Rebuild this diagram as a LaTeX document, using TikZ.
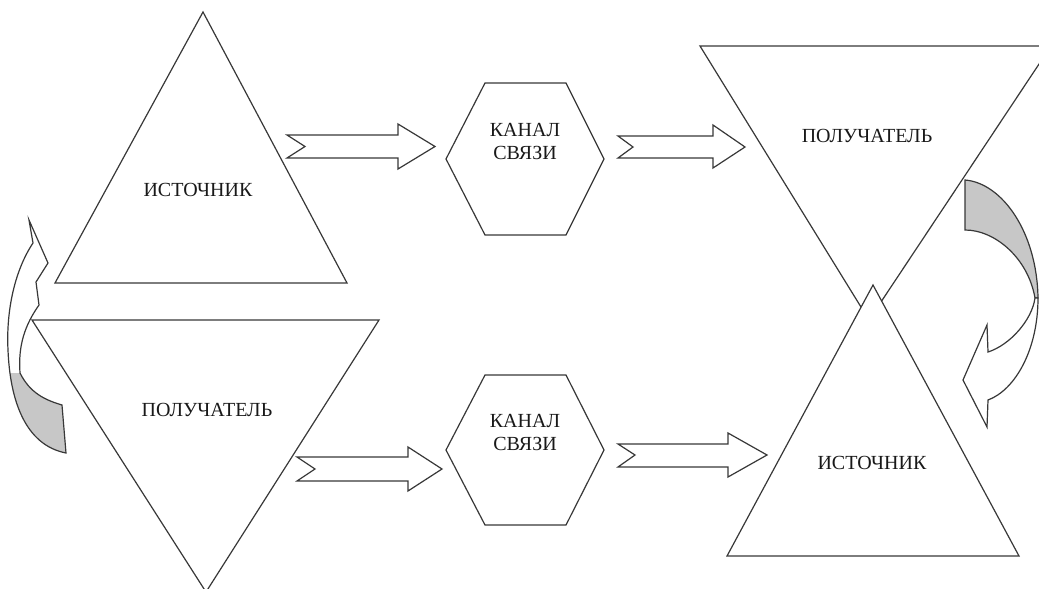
\documentclass[tikz,border=0pt]{standalone}
\usepackage{fontspec}
\setmainfont{Liberation Serif}
\begin{document}
\begin{tikzpicture}[x=1pt,y=-1pt,
  ln/.style={draw=black!78, line width=1.2pt, line join=miter},
  figure/.style={ln, fill=white},
  barrow/.style={ln, fill=white},
  lbl/.style={font=\fontsize{20}{23}\selectfont, inner sep=0pt, align=center, text=black!90}]
\useasboundingbox (0,0) rectangle (1039,589);
\clip (0,0) rectangle (1039,589);
\fill[white] (0,0) rectangle (1039,589);

% ---------- left curved arrow ----------
\def\leftband{(33,243) .. controls (15,270) and (6,310) .. (8,350)
  .. controls (10,400) and (25,445) .. (66,453) -- (62,405)
  .. controls (45,400) and (30,393) .. (20,373)
  .. controls (18,345) and (25,325) .. (39,305)
  -- (36,282) -- (48,263) -- (29,220) -- cycle}
\fill[white] \leftband;
\begin{scope}
  \clip \leftband;
  \fill[black!22] (0,373) -- (20,373) .. controls (30,393) and (45,400) .. (62,405)
    -- (72,462) -- (0,462) -- cycle;
\end{scope}
\draw[ln] \leftband;

% ---------- left triangles ----------
\coordinate (s1a) at (203,12); \coordinate (s1b) at (347,283); \coordinate (s1c) at (55,283);
\draw[figure] (s1a) -- (s1b) -- (s1c) -- cycle;
\node[lbl] (src1) at (198,190) {ИСТОЧНИК};

\coordinate (p2a) at (32,320); \coordinate (p2b) at (379,320); \coordinate (p2c) at (206,592);
\draw[figure] (p2a) -- (p2b) -- (p2c) -- cycle;
\node[lbl] (recv2) at (207,410) {ПОЛУЧАТЕЛЬ};

% ---------- hexagons ----------
\draw[figure] (485,83) -- (566,83) -- (604,159) -- (566,235) -- (485,235) -- (446,159) -- cycle;
\node[lbl] (ch1) at (525,141.5) {КАНАЛ\\СВЯЗИ};
\draw[figure] (485,375) -- (566,375) -- (604,450) -- (566,525) -- (485,525) -- (446,450) -- cycle;
\node[lbl] (ch2) at (525,432.5) {КАНАЛ\\СВЯЗИ};

% ---------- right triangles ----------
\coordinate (p1a) at (700,46); \coordinate (p1b) at (1051,46); \coordinate (p1c) at (869,320);
\draw[figure] (p1a) -- (p1b) -- (p1c) -- cycle;
\node[lbl] (recv1) at (867,136) {ПОЛУЧАТЕЛЬ};

\coordinate (s2a) at (873,285); \coordinate (s2b) at (1019,556); \coordinate (s2c) at (727,556);
\draw[figure] (s2a) -- (s2b) -- (s2c) -- cycle;
\node[lbl] (src2) at (872,463) {ИСТОЧНИК};

% ---------- right curved arrow ----------
\draw[ln, fill=black!22] (965,180) .. controls (1002,183) and (1037,232) .. (1038,298)
  -- (1035,298) .. controls (1028,258) and (995,230) .. (965,230) -- cycle;
\draw[barrow] (1035,298) .. controls (1032,320) and (1010,345) .. (988,352)
  -- (987,325) -- (963,380) -- (987,427) -- (988,400)
  .. controls (1015,390) and (1038,350) .. (1038,298) -- cycle;

% ---------- block arrows ----------
\draw[barrow] (287,135) -- (398,135) -- (398,124) -- (435,146.5) -- (398,169)
  -- (398,158) -- (287,158) -- (305,146.5) -- cycle;
\draw[barrow] (618,136) -- (713,136) -- (713,125) -- (745,147) -- (713,168)
  -- (713,158) -- (618,158) -- (633,147) -- cycle;
\draw[barrow] (297,457) -- (408,457) -- (408,447) -- (442,469) -- (408,491)
  -- (408,481) -- (297,481) -- (315,469) -- cycle;
\draw[barrow] (618,444) -- (728,444) -- (728,433) -- (767,455) -- (728,477)
  -- (728,467) -- (618,467) -- (635,455) -- cycle;
\end{tikzpicture}
\end{document}
